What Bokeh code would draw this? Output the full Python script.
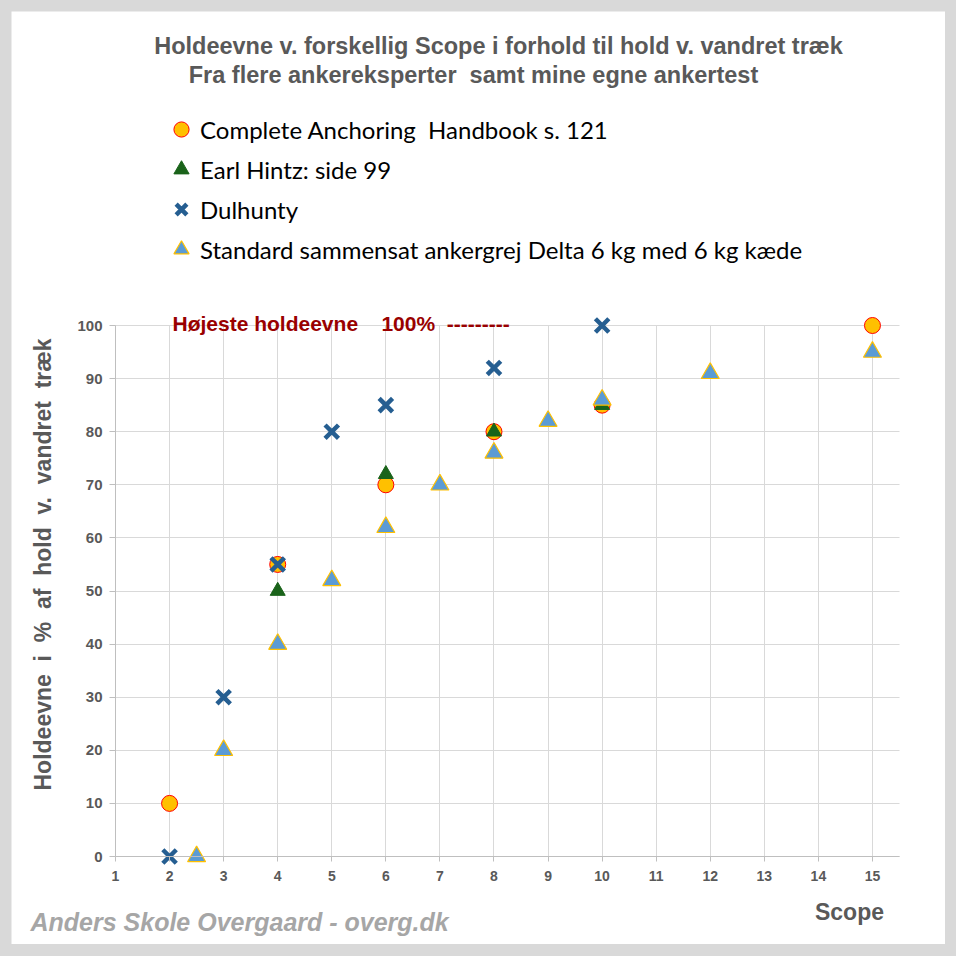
import math
from bokeh.plotting import figure
from bokeh.models import Label, Legend, LegendItem, Range1d, FixedTicker
from bokeh.layouts import column
from bokeh.embed import file_html
from bokeh.resources import INLINE

# ---- data ----
handbook_scope = [2, 4, 6, 8, 10, 15]
handbook_hold = [10, 55, 70, 80, 85, 100]

hintz_scope = [4, 6, 8, 10]
hintz_hold = [50, 72, 80, 85]

dulhunty_scope = [2, 3, 4, 5, 6, 8, 10]
dulhunty_hold = [0, 30, 55, 80, 85, 92, 100]

standard_scope = [2.5, 3, 4, 5, 6, 7, 8, 9, 10, 12, 15]
standard_hold = [0, 20, 40, 52, 62, 70, 76, 82, 86, 91, 95]

series_names = [
    "Complete Anchoring\u00a0 Handbook s. 121",
    "Earl Hintz: side 99",
    "Dulhunty",
    "Standard sammensat ankergrej Delta 6 kg med 6 kg kæde",
]
x_ticks = list(range(1, 16))
y_ticks = list(range(0, 101, 10))
x_axis_end = 15.5

title_lines = [
    "Holdeevne v. forskellig Scope i forhold til hold v. vandret træk",
    "Fra flere ankereksperter\u00a0 samt mine egne ankertest",
]
max_note = "Højeste holdeevne\u00a0\u00a0\u00a0 100%\u00a0 ---------"
y_title = "Holdeevne\u00a0 i\u00a0 %\u00a0 af\u00a0 hold\u00a0 v.\u00a0 vandret\u00a0 træk"
x_title = "Scope"
footer = "Anders Skole Overgaard - overg.dk"

GRAY = "#595959"
GRID = "#d9d9d9"
FONT = "Liberation Sans"

# plot area: page pixels (inside an 11px grey border)
W, H = 934, 933
PX_X0, PX_PER_X = 104, 54.069     # x = 1 at 104 px from the left of the figure
PX_Y0, PX_PER_Y = 845, 5.31       # y = 0 at 845 px from the top of the figure

x_start = x_ticks[0] - PX_X0 / PX_PER_X
x_end = x_ticks[0] + (W - PX_X0) / PX_PER_X
y_start = -(H - PX_Y0) / PX_PER_Y
y_end = PX_Y0 / PX_PER_Y

p = figure(width=W, height=H,
           x_range=Range1d(x_start, x_end), y_range=Range1d(y_start, y_end),
           output_backend="svg", toolbar_location=None,
           min_border=0, min_border_left=0, min_border_right=0,
           min_border_top=0, min_border_bottom=0)
p.outline_line_color = None
p.background_fill_color = "white"
p.border_fill_color = "white"

xa, ya = p.xaxis[0], p.yaxis[0]
xa.fixed_location = y_ticks[0]
ya.fixed_location = x_ticks[0]
xa.bounds = (x_ticks[0], x_axis_end)
ya.bounds = (y_ticks[0], y_ticks[-1])
for ax in (xa, ya):
    ax.axis_line_color = "#bfbfbf"
    ax.major_tick_line_color = "#bfbfbf"
    ax.minor_tick_line_color = None
    ax.major_tick_in = 0
    ax.major_label_text_font = FONT
    ax.major_label_text_font_style = "bold"
    ax.major_label_text_color = GRAY
xa.major_label_text_font_size = "14px"
ya.major_label_text_font_size = "15px"
xa.ticker = FixedTicker(ticks=x_ticks)
ya.ticker = FixedTicker(ticks=y_ticks)
xa.major_tick_out = 5
ya.major_tick_out = 6
xa.major_label_standoff = 9
ya.major_label_standoff = 7

# grid lines limited to the data area
grid_ok = True
try:
    p.xgrid[0].ticker = FixedTicker(ticks=x_ticks)
    p.ygrid[0].ticker = FixedTicker(ticks=y_ticks)
    p.xgrid[0].cross_bounds = (y_ticks[0], y_ticks[-1])
    p.ygrid[0].cross_bounds = (x_ticks[0], x_axis_end)
    p.xgrid[0].grid_line_color = GRID
    p.ygrid[0].grid_line_color = GRID
except Exception:
    grid_ok = False
if not grid_ok:
    p.xgrid[0].visible = False
    p.ygrid[0].visible = False
    p.segment(x0=x_ticks, y0=[y_ticks[0]] * len(x_ticks),
              x1=x_ticks, y1=[y_ticks[-1]] * len(x_ticks),
              line_color=GRID, line_width=1, level="underlay")
    p.segment(x0=[x_ticks[0]] * len(y_ticks), y0=y_ticks,
              x1=[x_axis_end] * len(y_ticks), y1=y_ticks,
              line_color=GRID, line_width=1, level="underlay")

r1 = p.scatter(handbook_scope, handbook_hold, marker="circle", size=16,
               fill_color="#ffc000", line_color="#ff0000", line_width=1)
r2 = p.scatter(hintz_scope, hintz_hold, marker="triangle", size=15,
               fill_color="#1a631a", line_color="#1a631a", line_width=1)
r3 = p.scatter(dulhunty_scope, dulhunty_hold, marker="x", size=19,
               line_color="#255e91", line_width=4.5)
r4 = p.scatter(standard_scope, standard_hold, marker="triangle", size=18,
               fill_color="#5b9bd5", line_color="#ffc000", line_width=1.2)

legend = Legend(items=[LegendItem(label=n, renderers=[r]) for n, r in
                       zip(series_names, [r1, r2, r3, r4])],
                location=(151, 676), margin=0, padding=0, spacing=2,
                glyph_width=38, glyph_height=38, label_height=38,
                label_standoff=-6,
                label_text_font="Lato", label_text_font_size="24px",
                label_text_color="black",
                border_line_color=None, background_fill_alpha=0)
p.add_layout(legend)


def px_x(px):
    return 1 + (px - 115) / PX_PER_X


def px_y(py):
    return (856 - py) / PX_PER_Y


def add_label(px, py, text, size, color=GRAY, style="bold", align="center", angle=0.0):
    p.add_layout(Label(x=px_x(px), y=px_y(py), text=text, angle=angle,
                       text_align=align, text_baseline="middle",
                       text_font=FONT, text_font_style=style,
                       text_font_size=size, text_color=color))


add_label(498, 45, title_lines[0], "23.5px")
add_label(473, 74, title_lines[1], "23.5px")
add_label(172, 323, max_note, "21px", color="#990000", align="left")
add_label(42, 564, y_title, "23px", angle=math.pi / 2)
add_label(849, 911, x_title, "23px")
add_label(30, 921, footer, "25px", color="#a6a6a6", style="bold italic", align="left")

root = column(p, styles={"background-color": "#d9d9d9",
                         "padding": "11px 11px 12px 11px"})

open("out.html", "w").write(file_html(root, INLINE))
